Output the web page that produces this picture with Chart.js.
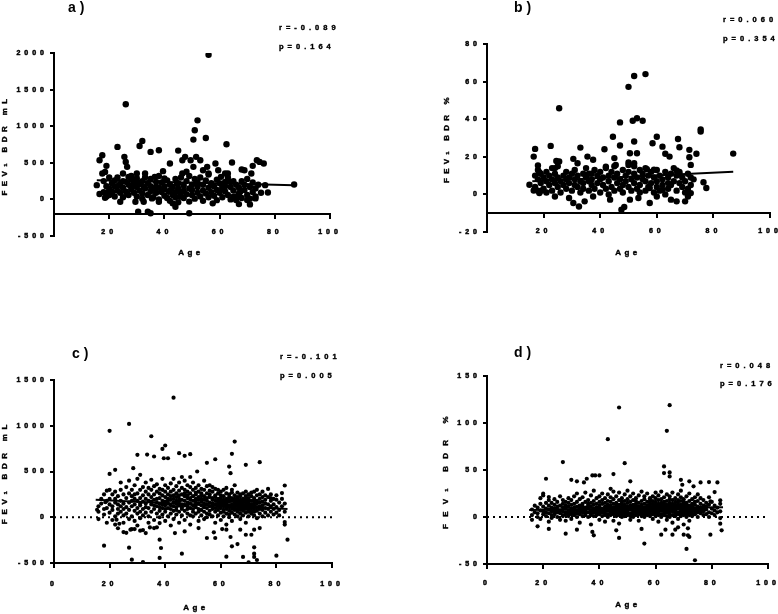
<!DOCTYPE html>
<html>
<head>
<meta charset="utf-8">
<script src="https://cdn.jsdelivr.net/npm/chart.js@4.4.1/dist/chart.umd.min.js"></script>
<style>
html,body{margin:0;padding:0;background:#fff;}
body{width:778px;height:614px;position:relative;overflow:hidden;font-family:"Liberation Sans",Arial,sans-serif;}
canvas{position:absolute;}
.t{position:absolute;font-weight:bold;color:#000;white-space:nowrap;line-height:1;transform:translateY(-50%);-webkit-text-stroke:0.4px #000;}
.pl{font-size:14px;-webkit-text-stroke:0;}
.st{font-size:7.5px;letter-spacing:4px;}
.ax{font-size:8px;letter-spacing:3.4px;transform:translate(-50%,-50%);}
.yt{font-size:8px;transform:translate(-50%,-50%) rotate(-90deg);}
</style>
</head>
<body>
<canvas id="ca" width="389" height="300" style="left:0;top:0"></canvas>
<canvas id="cb" width="336" height="300" style="left:442px;top:0"></canvas>
<canvas id="cc" width="389" height="314" style="left:0;top:300px"></canvas>
<canvas id="cd" width="338" height="314" style="left:440px;top:300px"></canvas>
<script>
// ---------- text ----------
const panelLabels = ['a )', 'b )', 'c )', 'd )'];
const rTexts = ['r=-0.089', 'r=0.060', 'r=-0.101', 'r=0.048'];
const pTexts = ['p=0.164', 'p=0.354', 'p=0.005', 'p=0.176'];
const yTitles = ['FEV\u2081 BDR mL', 'FEV\u2081 BDR %', 'FEV\u2081 BDR mL', 'FEV\u2081 BDR %'];
const xTitle = 'Age';

// ---------- ticks ----------
const xTicks = [0, 20, 40, 60, 80, 100];
const yTicksA = [-500, 0, 500, 1000, 1500, 2000];
const yTicksB = [-20, 0, 20, 40, 60, 80];
const yTicksC = [-500, 0, 500, 1000, 1500];
const yTicksD = [-50, 0, 50, 100, 150];

// ---------- data: panel a (age, FEV1 BDR mL) ----------
const outliersA = [[56,1975],[26,1300],[52,1080],[51,944],[50.5,817],[55,839],[32,799],[31,730],[23,717],[62.5,753],[38,671],[35,649],[45,667],[17.5,604],[16.5,535],[25.5,581],[26,512],[19,458],[26.5,445],[18.5,376],[17.5,354],[15.5,195],[16.5,73],[18.5,23],[19.5,91],[21,82],[23.5,195],[24,-32],[25,354],[27,308],[28,172],[28,286],[26.5,82],[29.5,-32],[30,354],[30.5,-168],[31,227],[33,354],[32.5,172],[34,-168],[32.5,-32],[35,-190],[35.5,14],[36.5,308],[37,172],[38,-32],[39.5,386],[40,286],[41.5,104],[42,490],[43,-54],[44,-100],[44.5,218],[45.5,36],[46.5,354],[46.5,535],[47.5,581],[48,377],[49,-190],[49.5,535],[50.5,445],[51.5,581],[53,535],[54,399],[55.5,445],[56,354],[57,195],[57.5,-54],[58.5,490],[59.5,399],[60.5,308],[61,172],[62,354],[63,354],[64,240],[64.5,504],[65,36],[66,-9],[67,-64],[67.5,104],[68,408],[69,399],[70,-9],[71,-68],[71.5,354],[72,458],[73,14],[73.5,535],[74.5,512],[76,490],[76.5,195],[77.5,95],[87,204]];
// rows: age, then values at that age
const clusterA = [[18,250,100],[19,180,40],[20,300,150,60],[21,220,110],[22,180,260,40],[23,120,300],[24,90,210],[25,160,250,30],[26,110,240],[27,200,60],[28,140,320],[29,230,90],[30,170,40,290],[31,120,210],[32,250,80,10],[33,150,300],[34,60,220],[35,180,110,280],[36,30,150],[37,240,90],[38,160,0,320],[39,100,230],[40,180,50,140],[41,260,20],[42,120,200,-20],[43,60,170],[44,280,100,30],[45,150,220,-40],[46,90,300],[47,190,20,120],[48,250,70],[49,150,-30,320],[50,60,200,130],[51,280,10],[52,170,90,230],[53,40,300],[54,120,200,-20],[55,260,80],[56,160,30,340],[57,220,100],[58,50,180],[59,270,130,-10],[60,90,220],[61,150,30],[62,240,110,180],[63,60,300],[64,170,0],[65,120,250],[66,200,40],[67,80,160],[68,250,20],[69,130,200],[70,60,280],[71,170,10],[72,100,230],[73,150,40],[74,200],[75,90]];
const fitA = [[15.5,260],[87,195]];

// ---------- data: panel b (age, FEV1 BDR %) ----------
const outliersB = [[56,64],[52,63],[50,57.2],[25.5,45.8],[53,40.5],[51.5,39.2],[55,39.2],[47,38.3],[75.5,34.6],[75.5,33.4],[44.5,30.7],[60,30.7],[67.5,29.5],[58.5,27.2],[52,28.1],[47,26],[22.5,25.8],[62,25.4],[33,24.9],[68,25.1],[17,24.2],[41.5,24],[71.5,23.7],[74,21.6],[87,21.7],[63,21.6],[64.5,20.1],[16.5,20.1],[50.5,21.9],[53,21.9],[35.5,20.1],[37.5,18.4],[71.5,19.8],[72,15.7],[30.5,18.9],[32,16.6],[24.5,17.8],[25.5,17.5],[18,15.4],[24,14],[18.5,11.8],[36,11],[50,15.7],[52,16.6],[42,14.8],[45,19.3],[45.5,15.7],[56.5,13.4],[59,13.1],[67,12.7],[68,11],[15,5.1],[16.5,2.1],[18.5,0.7],[19.5,2.1],[24,-1.1],[29,-1.9],[30.5,-4.6],[32.5,-6.4],[34.5,-3.7],[37.5,-1.1],[43.5,-2.8],[47.5,-8.1],[48.5,-6.7],[50.5,-2.8],[53.5,-1.9],[57.5,-4.6],[60,-1.1],[65,-2.8],[67,-3.7],[70,-3.7],[71,-1.1],[72,0.7],[76.5,6.5],[77.5,3.4],[62,2.5],[57.5,3.4]];
const clusterB = [[17,10,4],[18,8,13,2],[19,6,11],[20,3,9],[21,7,12,1],[22,5,10],[23,8,2,14],[24,6,11],[25,4,9,15],[26,7,1],[27,10,5],[28,3,12,8],[29,6,9],[30,2,11],[31,8,5,13],[32,4,10],[33,7,1],[34,11,6,3],[35,9,14],[36,2,7],[37,5,11,8],[38,3,13],[39,10,6],[40,1,8,12],[41,5,9],[42,3,14],[43,7,10,0],[44,4,12],[45,9,2,15],[46,6,11],[47,3,8],[48,13,5,1],[49,10,7],[50,4,12,17],[51,8,2],[52,11,6,15],[53,3,9],[54,13,5,1],[55,8,11],[56,2,7,14],[57,10,4],[58,6,12],[59,1,9],[60,7,13,4],[61,10,2],[62,5,8],[63,12,0],[64,3,9,6],[65,11,5],[66,7,14],[67,2,10],[68,6,12],[69,9,4],[70,1,7],[71,11,3],[72,5,9],[73,8]];
const fitB = [[16,7],[87,12]];

// ---------- data: panel c (age, FEV1 BDR mL) ----------
const outliersC = [[43,1307],[27,1020],[20,944],[35,885],[65,827],[40,784],[39,747],[33.5,685],[30,682],[49,689],[64,693],[58,634],[36,664],[45,700],[47,671],[39.5,645],[41,645],[74,602],[69,573],[22,518],[20,474],[28.5,536],[31,464],[55,595],[51.5,500],[63,554],[63.5,482],[18.5,165],[15.5,82],[18,-311],[27,-333],[28,-464],[32,-489],[38,-445],[38,-245],[38.5,-336],[46,-398],[55,-227],[58,-227],[62,-431],[64,-318],[66,-293],[68,-434],[69,-191],[71,-191],[72,-329],[72,-398],[73,-467],[70,-493],[72,-434],[80,-420],[83,-53],[83,-80],[84,-245],[83,347],[82,264],[78,209],[80,191],[22.5,-27],[23.5,-71],[25,-162],[27.5,-136],[29,-129],[31,-147],[33,-173],[34.5,-111],[36,-118],[38,-64],[43.5,-173],[47,-155],[52,-118],[57.5,-165],[60.5,-129],[62,-136],[63.5,-216],[67,-136],[72,-136],[74,-118]];
const clusterC = [[16,60,120,-20],[17,150,200],[18,30,250,90],[19,180,100,-60,290],[20,300,50,200,140],[21,120,250,-30,80],[22,200,10,160,280,-80],[23,90,230,140,-120,40],[24,180,60,300,120,380],[25,20,150,250,-60,90],[26,210,110,40,330,-170],[27,160,260,-20,80,400],[28,120,230,10,180,-130,300],[29,70,200,140,350,-40,250],[30,180,40,260,100,420,-90],[31,130,300,210,-10,60,150],[32,240,90,170,330,20,-140],[33,110,200,280,50,380,150],[34,180,10,250,100,320,-60],[35,140,60,220,300,170,410],[36,90,250,190,-30,130,340],[37,200,120,40,280,160,360,-110],[38,150,260,70,210,0,310,110],[39,180,100,240,300,30,140,420],[40,220,130,60,280,170,-40,350,90],[41,150,250,10,200,100,320,180],[42,90,190,280,130,40,370,230,-90],[43,160,240,70,300,120,200,-20,420],[44,110,180,260,30,340,150,80,220],[45,200,130,60,290,170,-60,380,240],[46,140,250,90,320,190,20,110,440],[47,180,70,230,300,130,-30,260,400],[48,120,210,40,280,160,350,90,240],[49,190,100,260,20,330,150,210,-80,440],[50,130,230,60,300,180,90,380,10],[51,170,250,110,40,320,200,140,270],[52,90,190,280,150,-40,350,220,60],[53,200,130,20,260,170,310,80,240],[54,150,60,230,300,110,190,-20,400],[55,180,100,260,40,340,140,210,0],[56,120,220,70,290,160,30,250,350],[57,190,90,150,280,10,210,120,330],[58,140,240,60,180,310,100,-60,220],[59,170,20,260,120,200,80,300,150],[60,100,210,150,50,280,180,-30,240,130],[61,160,80,230,10,190,120,300,60,140],[62,200,110,40,260,150,-80,180,90,320],[63,130,220,70,170,0,250,110,190,30],[64,180,90,140,270,50,210,120,-40,300],[65,100,200,160,30,240,130,80,190,350],[66,150,60,220,120,180,10,270,90,200],[67,190,110,40,250,140,170,-20,80,230],[68,120,200,70,160,260,100,20,180,130],[69,170,50,230,140,90,200,-60,280,110],[70,130,190,80,250,10,160,110,210,60],[71,180,100,140,40,230,70,270,120],[72,90,160,210,20,130,280,60,190],[73,150,70,240,110,180,-10,300],[74,120,200,40,160,90,250],[75,170,80,220,130,10,280],[76,100,190,50,150,240],[77,140,220,20,90,310],[78,60,180,120,250],[79,200,30,140,90],[80,110,240,50],[81,160,80,20],[82,120,200],[83,60,150]];
const fitC = [[15,190],[84,90]];

// ---------- data: panel d (age, FEV1 BDR %) ----------
const outliersD = [[65,119],[47,116.5],[64,91.7],[43,82.8],[27,58.4],[49,57.3],[63,53.8],[63,46.7],[65,47.4],[65,43.2],[45,45.7],[38.5,44.2],[37.5,44.2],[40,44.2],[21,40.7],[30,39.6],[32,37.9],[34.5,36.8],[35.5,40.7],[51,37.9],[69,39.6],[72,37.9],[76,36.8],[79,37.2],[82,36.8],[73.5,32.6],[69.5,34.3],[20,24.8],[22,21.2],[18,-9.9],[22,-12.7],[28,-17.7],[32,-13.5],[37.5,-15.9],[38,-19.5],[46,-14.2],[47,-22.3],[55,-12.7],[56,-28.3],[62,-18.8],[63.5,-13.5],[66,-18.8],[67,-13.5],[68,-11],[70,-18.8],[71,-34],[71.5,-19.5],[72,-21.2],[74,-46],[71.5,-12],[79.5,-18.8],[83.5,-14.2],[83,-7.1],[83,-1.1],[83,17.7],[81,26.5],[79.5,16.6]];
const clusterD = [[16,2,8,-3],[17,5,12],[18,0,10,4],[19,7,14,-2,20],[20,3,11,6,23],[21,9,1,15,5],[22,12,4,18,-5,8],[23,6,10,2,15,-1],[24,3,9,13,6,19],[25,8,0,11,5,16],[26,4,12,7,-3,22],[27,10,2,6,14,1,18],[28,5,9,12,3,-4,16],[29,7,1,11,15,4,20],[30,9,3,13,6,18,-2],[31,5,10,2,14,8,22],[32,11,4,7,16,0,25],[33,6,12,3,9,19,-6],[34,8,1,14,5,11,21],[35,10,4,7,16,2,26],[36,5,12,9,0,18,14],[37,7,2,11,15,4,23,-8],[38,9,5,13,1,17,7,28],[39,4,10,6,14,20,2],[40,8,12,3,16,6,22,-3,10],[41,5,9,14,1,18,7,25],[42,11,4,8,15,2,20,6,-5],[43,7,13,3,10,17,0,24],[44,9,5,12,2,16,7,21,30],[45,6,10,14,3,8,19,-4,27],[46,11,4,7,15,1,12,22,9],[47,8,13,5,18,2,10,26,-7],[48,6,11,3,14,9,20,0,16],[49,10,4,7,13,17,1,24,12],[50,5,9,15,2,11,19,7,28],[51,8,12,4,16,1,10,22,-3],[52,6,13,3,9,18,11,0,25],[53,10,5,14,7,20,2,12,17],[54,8,3,11,15,6,23,-4,9],[55,12,4,9,17,1,13,7,27],[56,6,10,14,3,19,8,0,22],[57,9,5,12,16,2,11,25,7],[58,7,13,4,10,18,1,15,20],[59,11,6,14,3,8,22,-2,17],[60,9,4,12,16,7,1,20,13,26],[61,5,10,14,2,18,8,12,-5,23],[62,11,7,3,15,9,19,0,13,27],[63,6,12,8,16,2,10,21,4,14],[64,9,5,13,17,1,11,7,24,-3],[65,8,12,3,15,10,19,6,0,22],[66,10,6,14,2,18,9,12,-6,26],[67,7,11,4,16,8,13,1,20,5],[68,12,5,9,15,3,18,10,-2,24],[69,8,13,6,11,1,17,4,21,28],[70,10,4,14,7,19,2,12,-8,16],[71,6,11,9,15,3,22,0,13],[72,12,5,8,17,2,10,25,-4],[73,7,14,4,11,19,1,9],[74,9,3,13,6,21,16],[75,5,11,8,17,0,24],[76,10,4,14,7,20],[77,6,12,2,18,9],[78,8,15,3,11],[79,5,13,0,21],[80,9,4,16],[81,7,12,2],[82,10,5],[83,6,14]];
const fitD = [[15,7.5],[84,10.5]];

// ---------- helpers ----------
const FONT = "'Liberation Sans', Arial, sans-serif";
Chart.defaults.font.family = FONT;
Chart.defaults.color = '#000';

function toPoints(outliers, cluster) {
  const pts = outliers.map(([x, y]) => ({x, y}));
  cluster.forEach(([age, ...vals]) => vals.forEach(v => pts.push({x: age, y: v})));
  return pts;
}

const spacingPlugin = {
  id: 'spacing',
  beforeLayout(c) { c.ctx.letterSpacing = '4px'; },
  beforeDraw(c) { c.ctx.letterSpacing = '4px'; }
};

function makePanel(id, cfg) {
  const datasets = [
    {data: cfg.fit.map(([x, y]) => ({x, y})), showLine: true, pointRadius: 0, borderColor: '#000', borderWidth: 2, fill: false}
  ];
  if (cfg.zeroLine) {
    datasets.push({data: [{x: 0, y: 0}, {x: 100, y: 0}], showLine: true, pointRadius: 0, borderColor: '#000', borderWidth: 2, borderDash: [2, 4], fill: false});
  }
  datasets.push({data: cfg.points, showLine: false, pointRadius: cfg.r, pointBackgroundColor: '#000', pointBorderColor: '#000', pointBorderWidth: 0});

  const grid = {display: true, drawOnChartArea: false, drawTicks: true, tickLength: 4, color: '#000', lineWidth: 2};
  const border = {display: true, color: '#000', width: 2};
  const tickFont = {family: FONT, size: 7, weight: 'bold'};
  return new Chart(document.getElementById(id), {
    type: 'scatter',
    data: {datasets},
    options: {
      responsive: false,
      animation: false,
      events: [],
      layout: {padding: cfg.pad},
      plugins: {legend: {display: false}, tooltip: {enabled: false}},
      scales: {
        x: {
          type: 'linear', min: 0, max: 100,
          position: {y: cfg.xAt},
          afterBuildTicks: s => { s.ticks = xTicks.map(v => ({value: v})); },
          afterFit: s => { s.paddingLeft = 0; s.paddingRight = 0; },
          border, grid,
          ticks: {
            color: '#000', autoSkip: false, maxRotation: 0, minRotation: 0, padding: cfg.xPad,
            font: tickFont, textStrokeColor: '#000', textStrokeWidth: 0.5,
            callback: v => (cfg.hideZero && v === 0) ? '' : String(v)
          }
        },
        y: {
          type: 'linear', min: cfg.yTicks[0], max: cfg.yTicks[cfg.yTicks.length - 1],
          afterBuildTicks: s => { s.ticks = cfg.yTicks.map(v => ({value: v})); },
          afterFit: s => { s.width = cfg.yWidth; s.paddingTop = 0; s.paddingBottom = 0; },
          border, grid,
          ticks: {color: '#000', padding: 2, font: tickFont, textStrokeColor: '#000', textStrokeWidth: 0.5, callback: v => String(v)}
        }
      }
    },
    plugins: [spacingPlugin]
  });
}

makePanel('ca', {points: toPoints(outliersA, clusterA), fit: fitA, r: 3.2, yTicks: yTicksA, xAt: -200, hideZero: true, xPad: 10,
  yWidth: 54, pad: {left: 0, top: 53, right: 59, bottom: 64}});
makePanel('cb', {points: toPoints(outliersB, clusterB), fit: fitB, r: 3.2, yTicks: yTicksB, xAt: -10, hideZero: true, xPad: 10,
  yWidth: 45, pad: {left: 0, top: 44, right: 8, bottom: 68}});
makePanel('cc', {points: toPoints(outliersC, clusterC), fit: fitC, r: 2.1, yTicks: yTicksC, xAt: -500, hideZero: false, xPad: 13, zeroLine: true,
  yWidth: 54, pad: {left: 0, top: 80, right: 57, bottom: 51}});
makePanel('cd', {points: toPoints(outliersD, clusterD), fit: fitD, r: 2.1, yTicks: yTicksD, xAt: -50, hideZero: false, xPad: 11, zeroLine: true,
  yWidth: 47, pad: {left: 0, top: 76, right: 10, bottom: 50}});

// ---------- text overlays ----------
const labelPos = [[68, 7], [514, 7], [72, 353], [514, 352]];
const rPos = [[279, 28], [723, 20], [280, 357], [720, 366]];
const pPos = [[279, 47], [723, 39], [280, 376], [720, 384]];
const agePos = [[191, 253], [628, 253], [196, 608], [628, 605]];
const yTitlePos = [[5, 144.5], [447, 138], [5, 471.5], [446, 469]];
const yTitleSpacing = [4.4, 4.2, 4.7, 7.2];
function addText(cls, txt, x, y, extra) {
  const d = document.createElement('div');
  d.className = 't ' + cls;
  d.textContent = txt;
  d.style.left = x + 'px';
  d.style.top = y + 'px';
  if (extra) Object.assign(d.style, extra);
  document.body.appendChild(d);
}
for (let i = 0; i < 4; i++) {
  addText('pl', panelLabels[i], labelPos[i][0], labelPos[i][1]);
  addText('st', rTexts[i], rPos[i][0], rPos[i][1]);
  addText('st', pTexts[i], pPos[i][0], pPos[i][1]);
  addText('ax', xTitle, agePos[i][0], agePos[i][1]);
  addText('yt', yTitles[i], yTitlePos[i][0], yTitlePos[i][1], {letterSpacing: yTitleSpacing[i] + 'px'});
}
</script>
</body>
</html>
